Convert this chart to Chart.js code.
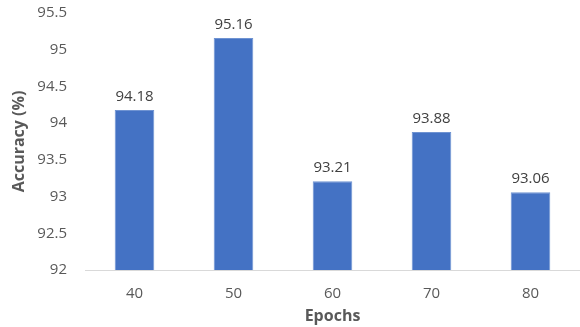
<!DOCTYPE html>
<html><head><meta charset="utf-8">
<script src="https://cdn.jsdelivr.net/npm/chart.js@4"></script>
<style>html,body{margin:0;padding:0;background:#fff}#w{width:580px;height:327px}</style>
</head><body><div id="w"><canvas id="c"></canvas></div>
<script>
const categories = ["40", "50", "60", "70", "80"];
const accuracy = [94.18, 95.16, 93.21, 93.88, 93.06];
const yMin = 92, yMax = 95.5, yStep = 0.5;

const labelPlugin = {
  id: 'valLabels',
  afterDatasetsDraw(chart) {
    const ctx = chart.ctx;
    const meta = chart.getDatasetMeta(0);
    ctx.save();
    ctx.font = '15px "Open Sans", sans-serif';
    ctx.fillStyle = '#404040';
    ctx.textAlign = 'center';
    ctx.textBaseline = 'bottom';
    meta.data.forEach((bar, i) => {
      ctx.fillText(accuracy[i].toFixed(2), bar.x, bar.y - 6);
    });
    ctx.restore();
  }
};

new Chart(document.getElementById('c'), {
  type: 'bar',
  data: {
    labels: categories,
    datasets: [{
      data: accuracy,
      backgroundColor: '#4472C4',
      borderColor: '#6F93D2',
      borderWidth: 1,
      barPercentage: 0.4,
      categoryPercentage: 1.0
    }]
  },
  options: {
    responsive: true,
    maintainAspectRatio: false,
    animation: false,
    layout: { padding: { top: 13, right: 0, left: 10, bottom: 0 } },
    plugins: { legend: { display: false }, tooltip: { enabled: false } },
    scales: {
      x: {
        grid: { display: false },
        border: { display: true, color: '#D9D9D9', width: 1 },
        ticks: { color: '#595959', font: { family: '"Open Sans", sans-serif', size: 15 }, padding: 7 },
        title: { display: true, text: 'Epochs', color: '#595959',
                 font: { family: '"Open Sans", sans-serif', size: 16, weight: 'bold' }, padding: { top: 0, bottom: 1 } },
        afterFit(s) { s.height = 57; s.paddingLeft = 0; s.paddingRight = 0; }
      },
      y: {
        min: yMin, max: yMax,
        grid: { display: false, drawTicks: false },
        border: { display: false },
        ticks: { stepSize: yStep, color: '#595959', font: { family: '"Open Sans", sans-serif', size: 15 }, padding: 18,
                 callback: v => String(v) },
        title: { display: true, text: 'Accuracy (%)', color: '#595959',
                 font: { family: '"Open Sans", sans-serif', size: 16, weight: 'bold' }, padding: { top: 0, bottom: 0 } },
        afterFit(s) { s.width = 75; s.paddingTop = 0; s.paddingBottom = 0; }
      }
    }
  },
  plugins: [labelPlugin]
});
</script>
</body></html>
